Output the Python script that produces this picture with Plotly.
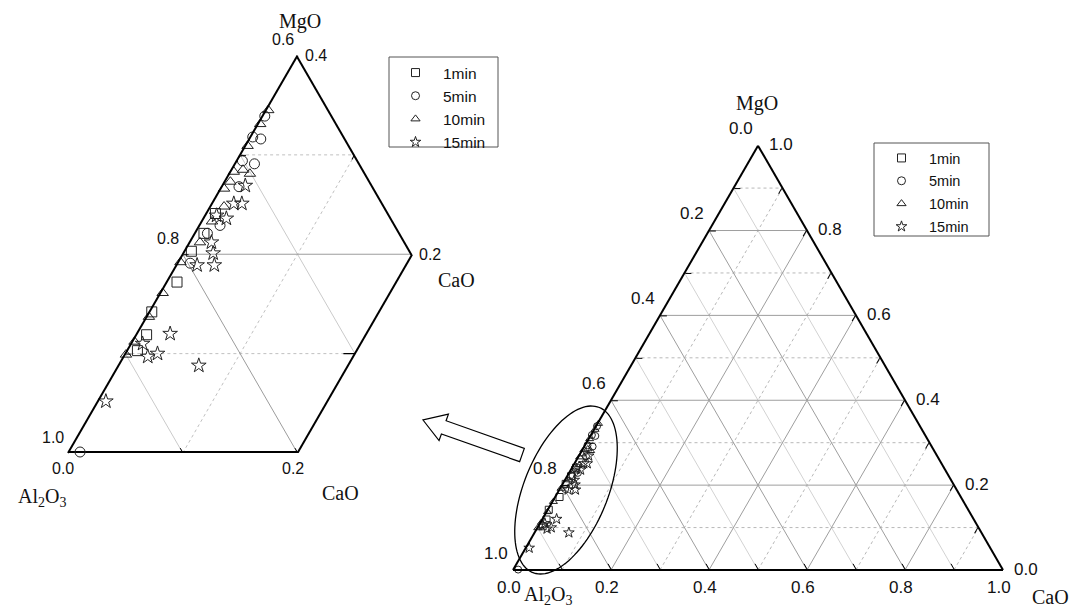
import numpy as np
import plotly.graph_objects as go

FIG_W, FIG_H = 1074, 610

# ---------------- data (mass fractions) ----------------
series_names = ["1min", "5min", "10min", "15min"]
symbols = ["square-open", "circle-open", "triangle-up-open", "star-open"]

mgo_1min = [0.203, 0.172, 0.142, 0.119, 0.103, 0.221, 0.241]
cao_1min = [0.006, 0.009, 0.002, 0.009, 0.009, 0.008, 0.008]

mgo_5min = [0.339, 0.318, 0.316, 0.294, 0.291, 0.268, 0.229, 0.191, 0.001, 0.221]
cao_5min = [0.002, 0.002, 0.010, 0.005, 0.017, 0.015, 0.018, 0.011, 0.010, 0.011]

mgo_10min = [0.345, 0.331, 0.309, 0.285, 0.281, 0.283, 0.273, 0.266, 0.248,
             0.233, 0.212, 0.192, 0.161, 0.137, 0.112, 0.099]
cao_10min = [0.002, 0.002, 0.002, 0.010, 0.018, 0.003, 0.005, 0.003, 0.012,
             0.009, 0.009, 0.002, 0.002, 0.002, 0.002, 0.001]

mgo_15min = [0.269, 0.251, 0.251, 0.236, 0.239, 0.212, 0.201, 0.189, 0.189,
             0.120, 0.110, 0.097, 0.100, 0.088, 0.052]
cao_15min = [0.020, 0.019, 0.026, 0.020, 0.010, 0.019, 0.026, 0.018, 0.033,
             0.029, 0.010, 0.021, 0.028, 0.070, 0.007]

mgo_all = [mgo_1min, mgo_5min, mgo_10min, mgo_15min]
cao_all = [cao_1min, cao_5min, cao_10min, cao_15min]

# tick values
full_labels = [0.0, 0.2, 0.4, 0.6, 0.8, 1.0]
full_major = [0.2, 0.4, 0.6, 0.8]
full_minor = [0.1, 0.3, 0.5, 0.7, 0.9]
full_ticks = [0.1, 0.2, 0.3, 0.4, 0.5, 0.6, 0.7, 0.8, 0.9]
zoom_al_labels = [0.6, 0.8, 1.0]
zoom_cao_labels = [0.0, 0.2]
zoom_mgo_labels = [0.4, 0.2]

# zoomed-plot frame and grid segments, as (MgO, Al2O3, CaO)
frame_outer_mgo = [0.0, 0.0, None, 0.2, 0.4]
frame_outer_al = [1.0, 0.8, None, 0.6, 0.6]
frame_outer_cao = [0.0, 0.2, None, 0.2, 0.0]
frame_inner_mgo = [0.0, 0.2]
frame_inner_al = [0.8, 0.6]
frame_inner_cao = [0.2, 0.2]
frame_tick_mgo = [0.1, 0.1]          # small tick on the CaO = 0.2 edge
frame_tick_al = [0.7, 0.71]
frame_tick_cao = [0.2, 0.19]

grid_major_mgo = [0.2, 0.2, None, 0.2, 0.0]
grid_major_al = [0.8, 0.6, None, 0.8, 0.8]
grid_major_cao = [0.0, 0.2, None, 0.0, 0.2]

grid_light_mgo = [0.1, 0.0, None, 0.3, 0.1]
grid_light_al = [0.9, 0.9, None, 0.7, 0.7]
grid_light_cao = [0.0, 0.1, None, 0.0, 0.2]

grid_dash_mgo = [0.1, 0.1, None, 0.3, 0.3, None, 0.0, 0.3]
grid_dash_al = [0.9, 0.7, None, 0.7, 0.6, None, 0.9, 0.6]
grid_dash_cao = [0.0, 0.2, None, 0.0, 0.1, None, 0.1, 0.1]

# ---------------- geometry ----------------
LEFT_X0, LEFT_BOTTOM, LEFT_SIDE = 68, 453, 459      # sub-triangle (Al2O3 >= 0.6)
LEFT_UNIT = LEFT_SIDE / 0.4                           # px per unit fraction
RIGHT_X0, RIGHT_BOTTOM, RIGHT_SIDE = 513, 570, 490
RIGHT_UNIT = RIGHT_SIDE
SQ3 = np.sqrt(3) / 2


def px(x, y):
    return x / FIG_W, 1 - y / FIG_H


def tern_domain(x0, bottom, side):
    h = side * SQ3
    return dict(x=[x0 / FIG_W, (x0 + side) / FIG_W],
                y=[1 - bottom / FIG_H, 1 - (bottom - h) / FIG_H])


def tern_px(mg, ca, x0, bottom, unit):
    """pixel position of a composition inside a ternary domain (Al2O3 corner at x0,bottom)"""
    return x0 + (mg / 2 + ca) * unit, bottom - mg * unit * SQ3


def closure(m, c):
    return [1 - mi - ci for mi, ci in zip(m, c)]


def iso_segments(values, comp):
    mg_l, al_l, ca_l = [], [], []
    for v in values:
        if comp == "mg":
            mg_l += [v, v, None]; ca_l += [0, 1 - v, None]; al_l += [1 - v, 0, None]
        elif comp == "al":
            al_l += [v, v, None]; mg_l += [1 - v, 0, None]; ca_l += [0, 1 - v, None]
        else:
            ca_l += [v, v, None]; mg_l += [0, 1 - v, None]; al_l += [1 - v, 0, None]
    return mg_l, al_l, ca_l


TITLEFONT = dict(family="Liberation Serif", size=20, color="#111")

fig = go.Figure()


def line_trace(a, b, c, color, width, dash, sub):
    return go.Scatterternary(a=a, b=b, c=c, mode="lines", subplot=sub,
                             line=dict(color=color, width=width, dash=dash),
                             showlegend=False, hoverinfo="skip", connectgaps=False)


# ---------- zoomed (left) plot ----------
fig.add_trace(line_trace(grid_dash_mgo, grid_dash_al, grid_dash_cao, "#c0c0c0", 1, "dot", "ternary"))
fig.add_trace(line_trace(grid_light_mgo, grid_light_al, grid_light_cao, "#cacaca", 1, "solid", "ternary"))
fig.add_trace(line_trace(grid_major_mgo, grid_major_al, grid_major_cao, "#9c9c9c", 1, "solid", "ternary"))
fig.add_trace(line_trace(frame_outer_mgo, frame_outer_al, frame_outer_cao, "black", 4, "solid", "ternary"))
fig.add_trace(line_trace(frame_inner_mgo, frame_inner_al, frame_inner_cao, "black", 2, "solid", "ternary"))
fig.add_trace(line_trace(frame_tick_mgo, frame_tick_al, frame_tick_cao, "black", 1.2, "solid", "ternary"))

for name, sym, m, c in zip(series_names, symbols, mgo_all, cao_all):
    fig.add_trace(go.Scatterternary(
        a=m, b=closure(m, c), c=c, mode="markers", name=name, subplot="ternary",
        showlegend=False, cliponaxis=False, hoverinfo="skip",
        marker=dict(symbol=sym, size=10 if sym != "star-open" else 11,
                    color="#222", line=dict(width=1, color="#222"))))

# ---------- full (right) plot ----------
for comp, dash, color in [("mg", "dot", "#b8b8b8"), ("ca", "dot", "#b8b8b8"), ("al", "solid", "#d2d2d2")]:
    fig.add_trace(line_trace(*iso_segments(full_minor, comp), color, 1, dash, "ternary2"))
for comp in ["mg", "al", "ca"]:
    fig.add_trace(line_trace(*iso_segments(full_major, comp), "#9e9e9e", 1, "solid", "ternary2"))

for name, sym, m, c in zip(series_names, symbols, mgo_all, cao_all):
    fig.add_trace(go.Scatterternary(
        a=m, b=closure(m, c), c=c, mode="markers", name=name, subplot="ternary2",
        showlegend=False, cliponaxis=False, hoverinfo="skip",
        marker=dict(symbol=sym, size=7 if sym != "star-open" else 8,
                    color="#222", line=dict(width=1, color="#222"))))

# legend-only entries (small symbols, as in the legend boxes)
for leg in ["legend", "legend2"]:
    for name, sym in zip(series_names, symbols):
        fig.add_trace(go.Scatterternary(
            a=[None], b=[None], c=[None], mode="markers", name=name,
            subplot="ternary" if leg == "legend" else "ternary2", legend=leg,
            hoverinfo="skip",
            marker=dict(symbol=sym, size=8, color="#222", line=dict(width=1, color="#222"))))

full_axis = lambda: dict(
    min=0, tickmode="array", tickvals=full_ticks, showticklabels=False,
    showgrid=False, showline=True, linecolor="black", linewidth=2,
    ticks="inside", ticklen=6, tickwidth=1.2, tickcolor="black",
    title=dict(text=""))

zoom_axis = lambda mn, vals: dict(
    min=mn, tickmode="array", tickvals=vals, showticklabels=False, showgrid=False,
    showline=False, ticks="inside", ticklen=5, tickwidth=1.2, tickcolor="black",
    title=dict(text=""))

left_a = zoom_axis(0, [0.1, 0.2, 0.3])
left_a.update(showline=True, linecolor="black", linewidth=2)

fig.update_layout(
    width=FIG_W, height=FIG_H, template="none",
    paper_bgcolor="white", plot_bgcolor="white",
    margin=dict(l=0, r=0, t=0, b=0),
    font=dict(family="Liberation Sans", size=15, color="#111"),
    ternary=dict(
        domain=tern_domain(LEFT_X0, LEFT_BOTTOM, LEFT_SIDE), sum=1, bgcolor="white",
        aaxis=left_a,
        baxis=zoom_axis(0.6, [0.9, 0.8]),
        caxis=zoom_axis(0, [0.1]),
    ),
    ternary2=dict(
        domain=tern_domain(RIGHT_X0, RIGHT_BOTTOM, RIGHT_SIDE), sum=1, bgcolor="white",
        aaxis=full_axis(), baxis=full_axis(), caxis=full_axis(),
    ),
    legend=dict(x=388 / FIG_W, y=1 - 56 / FIG_H, xanchor="left", yanchor="top",
                bgcolor="rgba(0,0,0,0)", borderwidth=0,
                font=dict(family="Liberation Sans", size=15.5, color="#111"),
                itemwidth=45),
    legend2=dict(x=874 / FIG_W, y=1 - 142 / FIG_H, xanchor="left", yanchor="top",
                 bgcolor="rgba(0,0,0,0)", borderwidth=0, traceorder="grouped",
                 font=dict(family="Liberation Sans", size=14.5, color="#111"),
                 tracegroupgap=1, itemwidth=45),
)
for tr in fig.data:
    if tr.legend == "legend2":
        tr.legendgroup = tr.name

# ---------- legend boxes ----------
for (x0, y0, x1, y1) in [(389, 57, 498, 147), (874, 143, 989, 236)]:
    ax0, ay0 = px(x0, y0)
    ax1, ay1 = px(x1, y1)
    fig.add_shape(type="rect", x0=ax0, y0=ay0, x1=ax1, y1=ay1, xref="paper", yref="paper",
                  line=dict(color="#555", width=1), layer="above")

# ---------- tick labels (placed next to the ternary ticks) ----------
def add_tick_labels(points, values, dx, dy, x0, bottom, unit, size):
    for (mg, ca), v in zip(points, values):
        x, y = tern_px(mg, ca, x0, bottom, unit)
        xp, yp = px(x + dx, y + dy)
        fig.add_annotation(text=f"{v:.1f}", x=xp, y=yp, xref="paper", yref="paper",
                           showarrow=False, xanchor="center", yanchor="middle",
                           font=dict(family="Liberation Sans", size=size, color="#111"))

L = (LEFT_X0, LEFT_BOTTOM, LEFT_UNIT, 16)
add_tick_labels([(1 - v, 0) for v in zoom_al_labels], zoom_al_labels, -15, -16, *L)
add_tick_labels([(0, v) for v in zoom_cao_labels], zoom_cao_labels, -5, 15, *L)
add_tick_labels([(v, 0.4 - v) for v in zoom_mgo_labels], zoom_mgo_labels, 18, 0, *L)

R = (RIGHT_X0, RIGHT_BOTTOM, RIGHT_UNIT, 17)
add_tick_labels([(1 - v, 0) for v in full_labels], full_labels, -17, -17, *R)
add_tick_labels([(0, v) for v in full_labels], full_labels, -4, 17, *R)
add_tick_labels([(v, 1 - v) for v in full_labels], full_labels, 23, -1, *R)

# ---------- titles ----------
titles = [
    ("MgO", 300, 21), ("CaO", 456, 280), ("CaO", 340, 493),
    ("Al<sub>2</sub>O<sub>3</sub>", 42, 497),
    ("MgO", 757, 103), ("Al<sub>2</sub>O<sub>3</sub>", 548, 595), ("CaO", 1050, 597),
]
for txt, x, y in titles:
    xp, yp = px(x, y)
    fig.add_annotation(text=txt, x=xp, y=yp, xref="paper", yref="paper",
                       showarrow=False, font=TITLEFONT, xanchor="center", yanchor="middle")

# ---------- ellipse highlighting the region ----------
cx, cy, ra, rb, th = 566, 490, 89, 42, np.deg2rad(68)
t = np.linspace(0, 2 * np.pi, 120)
ex = cx + ra * np.cos(t) * np.cos(th) + rb * np.sin(t) * np.sin(th)
ey = cy - ra * np.cos(t) * np.sin(th) + rb * np.sin(t) * np.cos(th)
pts = [px(x, y) for x, y in zip(ex, ey)]
path = "M " + " L ".join(f"{x:.5f},{y:.5f}" for x, y in pts) + " Z"
fig.add_shape(type="path", path=path, xref="paper", yref="paper",
              line=dict(color="black", width=1.3), layer="above")

# ---------- block arrow ----------
tip = np.array([423.0, 420.0])
u = np.array([-96.0, -34.0]); u /= np.linalg.norm(u)
n = np.array([u[1], -u[0]])
head_len, head_w, shaft_w, total = 22, 14, 7, 105
base = tip - head_len * u
tail = tip - total * u
poly = [tip, base + head_w * n, base + shaft_w * n, tail + shaft_w * n,
        tail - shaft_w * n, base - shaft_w * n, base - head_w * n]
apath = "M " + " L ".join("{:.5f},{:.5f}".format(*px(p[0], p[1])) for p in poly) + " Z"
fig.add_shape(type="path", path=apath, xref="paper", yref="paper",
              line=dict(color="black", width=1.2), fillcolor="white", layer="above")

fig.write_html("out.html", config={"displayModeBar": False},
               post_script="document.body.style.margin='0px';")
